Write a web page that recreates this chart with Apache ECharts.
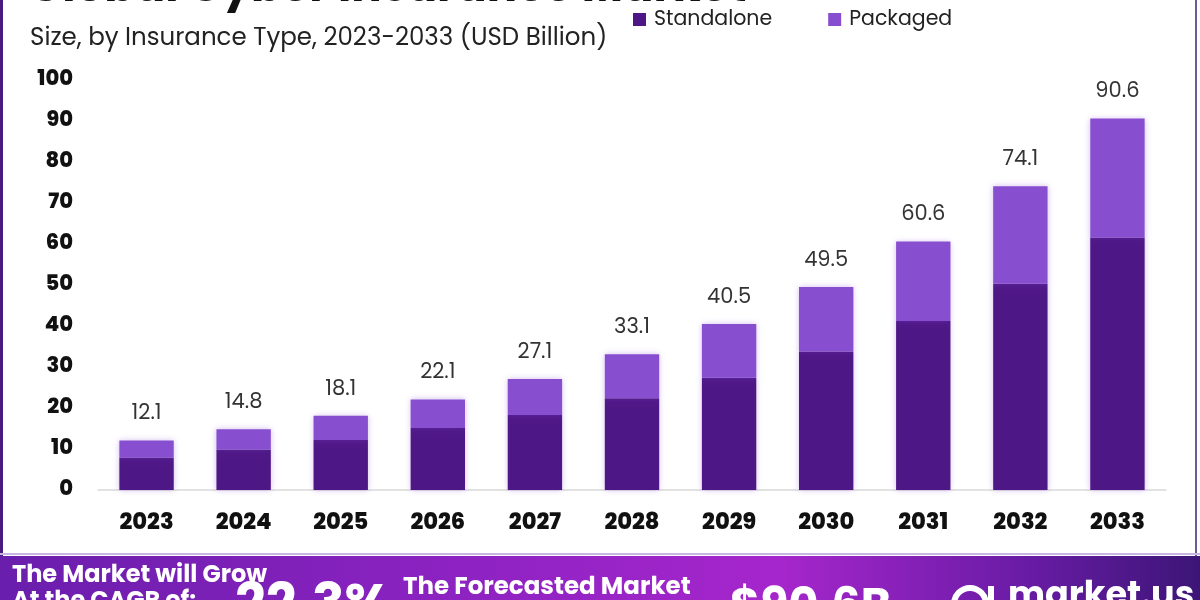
<!DOCTYPE html>
<html>
<head>
<meta charset="utf-8">
<script src="https://cdn.jsdelivr.net/npm/echarts@6/dist/echarts.min.js"></script>
<style>
html,body{margin:0;padding:0;background:#fff;}
#c{width:1200px;height:600px;}
</style>
</head>
<body>
<div id="c"></div>
<script>
const years = ['2023','2024','2025','2026','2027','2028','2029','2030','2031','2032','2033'];
const standalone = [7.9, 9.9, 12.2, 15.1, 18.3, 22.4, 27.4, 33.8, 41.2, 50.3, 61.6];
const packaged = [4.2, 4.9, 5.9, 7.0, 8.8, 10.7, 13.1, 15.7, 19.4, 23.8, 29.0];
const totals = ['12.1','14.8','18.1','22.1','27.1','33.1','40.5','49.5','60.6','74.1','90.6'];
const yTicks = [0,10,20,30,40,50,60,70,80,90,100];

const FONT = 'Poppins, Inter, "Open Sans", sans-serif';
const chart = echarts.init(document.getElementById('c'), null, {renderer:'canvas'});

chart.setOption({
  animation:false,
  backgroundColor:'#ffffff',
  grid:{left:98, right:34, top:80, bottom:110},
  legend:{
    data:['Standalone','Packaged'],
    left:628, top:4,
    itemWidth:13, itemHeight:13, itemGap:56,
    icon:'rect',
    textStyle:{fontFamily:FONT, fontSize:20.5, color:'#222', padding:[0,0,0,3]}
  },
  xAxis:{
    type:'category', data:years,
    axisLine:{lineStyle:{color:'#d9d9d9', width:1.5}},
    axisTick:{show:false},
    axisLabel:{fontFamily:FONT, fontSize:22.5, fontWeight:800, color:'#111', margin:22}
  },
  yAxis:{
    type:'value', min:yTicks[0], max:yTicks[yTicks.length-1], interval:10,
    axisLine:{show:false}, axisTick:{show:false},
    splitLine:{show:false},
    axisLabel:{fontFamily:FONT, fontSize:21, fontWeight:800, color:'#111', margin:25}
  },
  series:[
    {
      name:'Standalone', type:'bar', stack:'t', data:standalone,
      barWidth:'56%',
      itemStyle:{color:'#4e1786', shadowBlur:6, shadowColor:'rgba(130,70,210,0.35)'}
    },
    {
      name:'Packaged', type:'bar', stack:'t', data:packaged,
      barWidth:'56%',
      itemStyle:{color:'#874fcf', shadowBlur:6, shadowColor:'rgba(130,70,210,0.35)'},
      label:{
        show:true, position:'top', distance:16,
        fontFamily:FONT, fontSize:21, color:'#333',
        formatter:p => totals[p.dataIndex]
      }
    }
  ],
  graphic:[
    {type:'rect', left:0, top:0, shape:{width:3, height:557}, style:{fill:'#4a1a80'}},
    {type:'rect', left:1195, top:0, shape:{width:2, height:557}, style:{fill:'#6f5a96'}},
    {type:'rect', left:0, top:553, shape:{width:1200, height:2}, style:{fill:'#c9b4e3'}},
    {type:'text', x:28, y:-10, style:{text:'Global Cyber Insurance Market', font:'bold 45px '+FONT, fill:'#111', verticalAlign:'middle'}},
    {type:'text', x:30, y:39, style:{text:'Size, by Insurance Type, 2023-2033 (USD Billion)', font:'24.5px '+FONT, fill:'#222', verticalAlign:'middle'}},
    {type:'rect', x:0, y:556, shape:{width:1200, height:44},
      style:{fill:new echarts.graphic.LinearGradient(0,0,1,0,[
        {offset:0, color:'#6a1eac'},
        {offset:0.35, color:'#8a22c0'},
        {offset:0.65, color:'#a626cc'},
        {offset:0.85, color:'#6a1ca6'},
        {offset:1, color:'#3c1577'}
      ])}},
    {type:'text', x:12, y:576, style:{text:'The Market will Grow', font:'bold 24px '+FONT, fill:'#fff', verticalAlign:'middle'}},
    {type:'text', x:12, y:602, style:{text:'At the CAGR of:', font:'bold 24px '+FONT, fill:'#fff', verticalAlign:'middle'}},
    {type:'text', x:235, y:608, style:{text:'22.3%', font:'bold 54px '+FONT, fill:'#fff', verticalAlign:'middle'}},
    {type:'text', x:403, y:588, style:{text:'The Forecasted Market', font:'bold 24.5px '+FONT, fill:'#fff', verticalAlign:'middle'}},
    {type:'text', x:403, y:614, style:{text:'Size for 2033 in USD:', font:'bold 24.5px '+FONT, fill:'#fff', verticalAlign:'middle'}},
    {type:'text', x:730, y:608, style:{text:'$90.6B', font:'bold 46px '+FONT, fill:'#fff', verticalAlign:'middle'}},
    {type:'circle', shape:{cx:970, cy:604, r:16}, style:{fill:'none', stroke:'#fff', lineWidth:6}},
    {type:'rect', shape:{x:988, y:586, width:6, height:20}, style:{fill:'#fff'}},
    {type:'text', x:1008, y:597, style:{text:'market.us', font:'bold 35px '+FONT, fill:'#fff', verticalAlign:'middle'}}
  ]
});
</script>
</body>
</html>
